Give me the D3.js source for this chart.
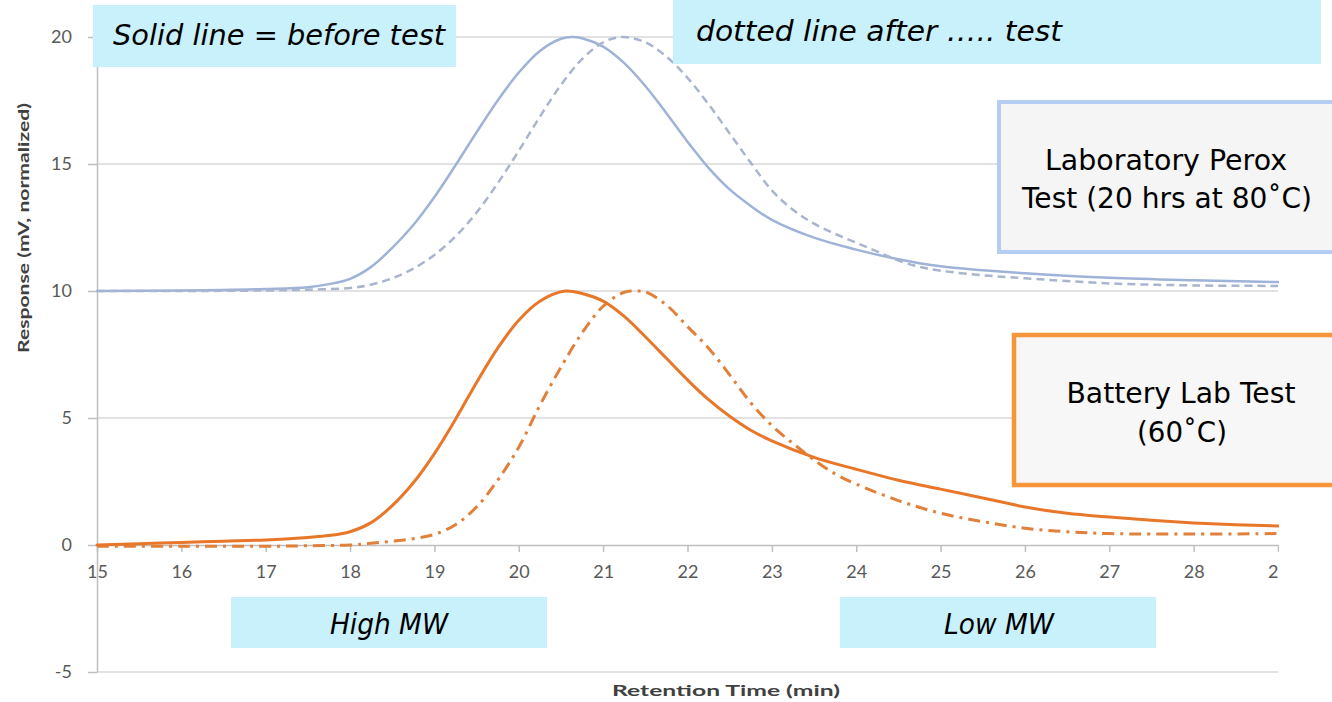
<!DOCTYPE html>
<html><head><meta charset="utf-8">
<script src="https://cdn.jsdelivr.net/npm/d3@7"></script>
<style>body{margin:0;background:#fff}svg{display:block}</style>
</head><body>
<svg id="c" width="1332" height="702"></svg>
<script>
// ---- data ----
const xTicks = [15,16,17,18,19,20,21,22,23,24,25,26,27,28,29];
const yTicks = [-5,0,5,10,15,20];

// Laboratory Perox test, before (solid)
const labBeforeTime = [15,16,17,17.5,17.75,18,18.25,18.5,18.75,19,19.25,19.5,19.75,20,20.25,20.5,20.63,20.75,21,21.25,21.5,21.75,22,22.25,22.5,22.75,23,23.5,24,24.5,25,25.5,26,27,28,29];
const labBeforeResp = [10,10.02,10.08,10.15,10.27,10.48,10.95,11.7,12.6,13.7,14.95,16.25,17.5,18.6,19.45,19.93,20,19.95,19.62,18.97,18.07,17.0,15.88,14.85,14.0,13.35,12.8,12.1,11.63,11.25,10.97,10.82,10.7,10.52,10.42,10.35];

// Laboratory Perox test, after (dashed)
const labAfterTime = [15,16,17,17.5,18,18.25,18.5,18.75,19,19.25,19.5,19.75,20,20.25,20.5,20.75,21,21.23,21.5,21.75,22,22.25,22.5,22.75,23,23.25,23.5,23.75,24,24.25,24.5,24.75,25,25.5,26,27,28,29];
const labAfterResp = [10,10,10.02,10.05,10.12,10.25,10.5,10.88,11.42,12.15,13.09,14.24,15.52,16.86,18.11,19.13,19.79,20,19.79,19.23,18.39,17.35,16.2,15.05,13.96,13.2,12.65,12.25,11.9,11.55,11.2,10.95,10.8,10.62,10.5,10.3,10.22,10.2];

// Battery lab test, before (solid)
const batBeforeTime = [15,15.5,16,16.5,17,17.5,17.75,18,18.25,18.5,18.75,19,19.25,19.5,19.75,20,20.25,20.55,20.75,21,21.25,21.5,21.75,22,22.25,22.5,22.75,23,23.5,24,24.5,25,25.5,26,26.5,27,27.5,28,28.5,29];
const batBeforeResp = [0,0.05,0.1,0.15,0.2,0.3,0.37,0.52,0.88,1.55,2.45,3.6,4.95,6.4,7.75,8.85,9.6,10,9.9,9.6,9.0,8.2,7.35,6.5,5.72,5.07,4.52,4.1,3.45,2.98,2.55,2.2,1.85,1.5,1.25,1.1,0.97,0.87,0.8,0.75];

// Battery lab test, after (dash-dot)
const batAfterTime = [15,16,17,17.5,18,18.25,18.5,18.75,19,19.25,19.5,19.75,20,20.25,20.5,20.75,21,21.25,21.4,21.5,21.75,22,22.25,22.5,22.75,23,23.25,23.5,23.75,24,24.5,25,25.5,26,26.5,27,28,29];
const batAfterResp = [-0.05,-0.05,-0.05,-0.03,0,0.07,0.15,0.25,0.42,0.8,1.5,2.55,3.85,5.5,7.0,8.35,9.4,9.95,10,9.97,9.45,8.6,7.75,6.7,5.6,4.7,4.0,3.35,2.8,2.4,1.75,1.25,0.92,0.66,0.52,0.45,0.43,0.45];

const series = [
  {t: labBeforeTime, v: labBeforeResp, color: "#9fb3d8", width: 2.5, dash: null},
  {t: labAfterTime,  v: labAfterResp,  color: "#a9b5cf", width: 2.5, dash: "8,5"},
  {t: batAfterTime,  v: batAfterResp,  color: "#e0803a", width: 3, dash: "12,6,3,6"},
  {t: batBeforeTime, v: batBeforeResp, color: "#e8772a", width: 3, dash: null}
];

// ---- chart ----
const svg = d3.select("#c");
svg.append("rect").attr("width",1332).attr("height",702).attr("fill","#fff");
svg.append("defs").append("clipPath").attr("id","crop")
  .append("rect").attr("x",0).attr("y",0).attr("width",1279).attr("height",702);

const g = svg.append("g").attr("clip-path","url(#crop)");
const x = d3.scaleLinear().domain([15,29]).range([97,1278]);
const y = d3.scaleLinear().domain([-5,20]).range([672,37]);

// gridlines
g.append("g").selectAll("line").data(yTicks.filter(d=>d!==0)).join("line")
  .attr("x1",x(15)).attr("x2",x(29)).attr("y1",d=>y(d)).attr("y2",d=>y(d))
  .attr("stroke","#d9d9d9").attr("stroke-width",1.5);

const numFmt = d => String(d); // plain hyphen-minus like the reference

// y axis
const yAxis = g.append("g").attr("transform",`translate(${x(15)},0)`)
  .call(d3.axisLeft(y).tickValues(yTicks).tickFormat(numFmt).tickSize(9).tickPadding(16).tickSizeOuter(0));
yAxis.select(".domain").attr("stroke","#bfbfbf").attr("stroke-width",1.5);
yAxis.selectAll(".tick line").attr("stroke","#bfbfbf").attr("stroke-width",1.5);
yAxis.selectAll(".tick text").attr("fill","#595959").style("font-family","Lato, sans-serif").style("font-size","18px");

// x axis at y=0
const xAxis = g.append("g").attr("transform",`translate(0,${y(0)})`)
  .call(d3.axisBottom(x).tickValues(xTicks).tickFormat(numFmt).tickSize(7).tickPadding(13).tickSizeOuter(0));
xAxis.select(".domain").attr("stroke","#bfbfbf").attr("stroke-width",1.5);
xAxis.selectAll(".tick line").attr("stroke","#bfbfbf").attr("stroke-width",1.5);
xAxis.selectAll(".tick text").attr("fill","#595959").style("font-family","Lato, sans-serif").style("font-size","18px");

// axis titles
g.append("text").attr("x",726).attr("y",696).attr("text-anchor","middle")
  .attr("fill","#404040").style("font-family","Lato, sans-serif").style("font-weight","bold").style("font-size","16px")
  .attr("textLength",228).attr("lengthAdjust","spacingAndGlyphs")
  .text("Retention Time (min)");
g.append("text").attr("transform","translate(29,228) rotate(-90)").attr("text-anchor","middle")
  .attr("fill","#404040").style("font-family","Lato, sans-serif").style("font-weight","bold").style("font-size","15px")
  .attr("textLength",250).attr("lengthAdjust","spacingAndGlyphs")
  .text("Response (mV, normalized)");

// lines
const line = d3.line().x(d=>x(d[0])).y(d=>y(d[1])).curve(d3.curveCatmullRom.alpha(0.5));
series.forEach(s => {
  const pts = s.t.map((t,i)=>[t, s.v[i]]);
  g.append("path").datum(pts).attr("d",line).attr("fill","none")
    .attr("stroke",s.color).attr("stroke-width",s.width)
    .attr("stroke-dasharray",s.dash).attr("stroke-linecap", s.dash ? "butt" : "round");
});

// ---- annotations ----
function box(x0,y0,w,h,fill,stroke,sw){
  svg.append("rect").attr("x",x0).attr("y",y0).attr("width",w).attr("height",h)
    .attr("fill",fill).attr("stroke",stroke||"none").attr("stroke-width",sw||0);
}
function label(txt,cx,by,len,italic,size){
  svg.append("text").attr("x",cx).attr("y",by).attr("text-anchor","middle")
    .attr("fill","#000").style("font-family","'DejaVu Sans', sans-serif")
    .style("font-style",italic?"italic":"normal").style("font-size",size+"px")
    .attr("textLength",len).attr("lengthAdjust","spacingAndGlyphs").text(txt);
}
const cyan = "#c9f1fc";
box(93,5,363,62,cyan);
label("Solid line = before test",279,45,332,true,28);
box(673,0,648,64,cyan);
label("dotted line after ….. test",879,41,366,true,28);
box(231,597,316,51,cyan);
label("High MW",389,634,118,true,28);
box(840,597,316,51,cyan);
label("Low MW",999,634,110,true,28);

box(999,102,340,150,"#f5f5f5","#b6cdf3",4);
label("Laboratory Perox",1166,170,242,false,29);
label("Test (20 hrs at 80˚C)",1167,208,290,false,29);
box(1014,335,330,150,"#f7f7f7","#f7953a",4.5);
label("Battery Lab Test",1181,403,229,false,29);
label("(60˚C)",1182,442,90,false,29);
</script>
</body></html>
